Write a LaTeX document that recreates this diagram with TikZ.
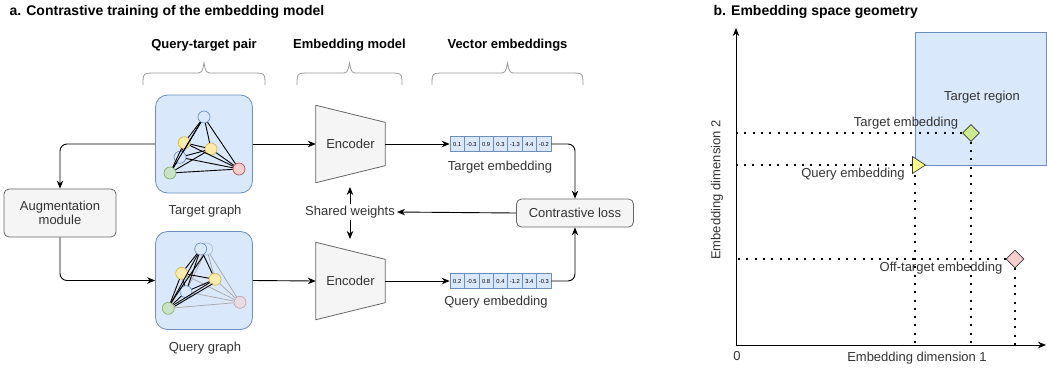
\documentclass[tikz,border=0pt]{standalone}
\usepackage{fontspec}
\setmainfont{Liberation Sans}
\usepackage{tikz}
\usetikzlibrary{arrows.meta, calc, positioning, shapes.geometric, backgrounds}
\tikzset{>={Stealth[length=8pt,width=6.5pt]}}
\usepackage{xcolor}
\definecolor{boxblue}{HTML}{DAE8FC}
\definecolor{lineblue}{HTML}{6C8EBF}
\definecolor{boxgray}{HTML}{F5F5F5}
\definecolor{linegray}{HTML}{666666}
\definecolor{textgray}{HTML}{333333}
\definecolor{nodeyellow}{HTML}{FFEBA8}
\definecolor{lineyellow}{HTML}{D6B656}
\definecolor{nodegreen}{HTML}{C9E3C5}
\definecolor{linegreen}{HTML}{82B366}
\definecolor{nodered}{HTML}{F8CECC}
\definecolor{linered}{HTML}{B85450}
\definecolor{diagreen}{HTML}{CDEB8B}
\definecolor{triyellow}{HTML}{FFFF88}
\definecolor{darkline}{HTML}{36393D}
\definecolor{bracegray}{HTML}{9A9A9A}

\tikzset{
  title/.style={font=\fontsize{14}{16}\selectfont\bfseries, anchor=west},
  header/.style={font=\fontsize{13}{15}\selectfont\bfseries},
  lbl/.style={font=\fontsize{13}{15}\selectfont, text=textgray, inner sep=2pt},
  graphbox/.style={draw=lineblue, fill=boxblue, rounded corners=12pt, line width=0.8pt,
    minimum width=97pt, minimum height=98pt},
  greybox/.style={draw=linegray, fill=boxgray, rounded corners=5pt, line width=0.8pt,
    text=textgray, font=\fontsize{13}{15}\selectfont, align=center},
  encoder/.style={minimum width=69pt, minimum height=77pt, inner sep=0pt, text=textgray,
    font=\fontsize{13}{15}\selectfont},
  encshape/.style={draw=linegray, fill=boxgray, line width=0.8pt},
  cell/.style={draw=lineblue, fill=boxblue, minimum width=14.43pt, minimum height=15pt,
    inner sep=0pt, line width=0.6pt, font=\fontsize{5.8}{6}\selectfont},
  vtx/.style={circle, minimum size=12pt, inner sep=0pt, line width=0.7pt},
  bluev/.style={vtx, draw=lineblue, fill=boxblue},
  yellowv/.style={vtx, draw=lineyellow, fill=nodeyellow},
  greenv/.style={vtx, draw=linegreen, fill=nodegreen},
  redv/.style={vtx, draw=linered, fill=nodered},
  faded/.style={opacity=0.45},
  edge/.style={line width=0.9pt, black},
  fadededge/.style={line width=0.7pt, black!35},
  conn/.style={->, line width=0.9pt, rounded corners=7pt},
  dotline/.style={line width=2pt, dash pattern=on 2pt off 6.3pt},
  marker/.style={draw=darkline, line width=0.7pt, inner sep=0pt},
}

\begin{document}
\begin{tikzpicture}[x=1pt, y=-1pt]
\useasboundingbox (0,0) rectangle (1047,368);

\node[title] (titlea) at (6,12) {a. Contrastive training of the embedding model};
\node[title] (titleb) at (710,12) {b. Embedding space geometry};

\foreach \xa/\xb/\txt/\nm in {143/265/Query-target pair/hpair, 297/402/Embedding model/hmodel, 432/583/Vector embeddings/hvec}{
  \node[header] (\nm) at ({(\xa+\xb)/2},45) {\txt};
  \draw[bracegray, line width=0.8pt] (\xa,85) .. controls (\xa,73) .. (\xa+13,73) -- ({(\xa+\xb)/2-9},73)
    .. controls ({(\xa+\xb)/2-2},73) .. ({(\xa+\xb)/2},63) .. controls ({(\xa+\xb)/2+2},73) .. ({(\xa+\xb)/2+9},73)
    -- (\xb-13,73) .. controls (\xb,73) .. (\xb,85);
}

\node[graphbox] (tg) at (204,144) {};
\node[graphbox] (qg) at (204,280.5) {};
\node[lbl] (tglab) at (205,211) {Target graph};
\node[lbl] (qglab) at (205,348) {Query graph};

% target graph
\node[bluev] (ta) at (204,117) {};
\node[yellowv] (tb) at (184.3,142.7) {};
\node[yellowv] (tc) at (211,149) {};
\node[bluev] (td) at (180,157.3) {};
\node[greenv] (te) at (170,173) {};
\node[redv] (tf) at (239,169) {};
\foreach \a/\b in {ta/tb, ta/tc, ta/td, ta/te, ta/tf, tb/tc, tb/td, tb/te, tb/tf, tc/td, tc/te, tc/tf, td/te, td/tf, te/tf}
  \draw[edge] (\a) -- (\b);

% query graph
\node[bluev, faded] (qg0) at (206.7,249) {};
\node[redv, faded] (qf) at (240,302.3) {};
\node[bluev] (qa) at (200.7,249) {};
\node[yellowv] (qb) at (181.7,273.3) {};
\node[yellowv] (qc) at (215,279.3) {};
\node[bluev] (qd) at (186,291.7) {};
\node[greenv] (qe) at (168.3,308.3) {};
\foreach \a/\b in {qg0/qf, qf/qb, qf/qc, qf/qd, qf/qe, qg0/qc, qg0/qe, qg0/qd}
  \draw[fadededge] (\a) -- (\b);
\foreach \a/\b in {qa/qb, qa/qc, qa/qd, qa/qe, qb/qc, qb/qd, qb/qe, qc/qd, qc/qe, qd/qe}
  \draw[edge] (\a) -- (\b);
\draw[edge] ([xshift=3pt]qe.north) -- ([xshift=3pt]qa.south);
\draw[edge] ([yshift=2pt]qe.east) -- ([xshift=2pt]qc.south west);

\node[greybox, minimum width=112pt, minimum height=48pt] (aug) at (60,213) {Augmentation\\[-1pt]module};
\draw[conn] (tg.west) -| (aug.north);
\draw[conn] (aug.south) |- (qg.west);

\node[encoder] (enc1) at (350.5,144) {Encoder};
\node[encoder] (enc2) at (350.5,281) {Encoder};
\begin{scope}[on background layer]
  \foreach \e in {enc1, enc2}
    \draw[encshape] (\e.north west) -- ([yshift=-17pt]\e.north east) -- ([yshift=17pt]\e.south east)
      -- (\e.south west) -- cycle;
\end{scope}
\draw[conn] (tg.east) -- (enc1.west);
\draw[conn] (qg.east) -- (enc2.west);

\foreach \v [count=\i] in {0.1,-0.3,0.9,0.3,-1.3,4.4,-0.2}
  \node[cell] (t\i) at ({442.8+14.43*\i},144) {\v};
\foreach \v [count=\i] in {0.2,-0.5,0.8,0.4,-1.2,3.4,-0.3}
  \node[cell] (q\i) at ({442.8+14.43*\i},281) {\v};
\node[lbl] (tvlab) at (500,167) {Target embedding};
\node[lbl] (qvlab) at (496,302) {Query embedding};
\draw[conn] (enc1.east) -- (t1.west);
\draw[conn] (enc2.east) -- (q1.west);

\node[greybox, minimum width=117pt, minimum height=28pt] (cl) at (575,213) {Contrastive loss};
\draw[conn] (t7.east) -| (cl.north);
\draw[conn] (q7.east) -| (cl.south);

\node[lbl] (sw) at (350,212) {Shared weights};
\coordinate (swup) at (350,187);
\coordinate (swdn) at (350,239);
\draw[->, line width=0.9pt] (sw) -- (swup);
\draw[->, line width=0.9pt] (sw) -- (swdn);
\draw[->, line width=0.9pt] (cl.west) -- (sw.east);

% embedding space
\coordinate (orig) at (736,345);
\draw[fill=boxblue, draw=lineblue, line width=0.8pt] (915,32) rectangle (1046,165);
\coordinate (rcorner) at (915,165);
\node[lbl] (treg) at (982,97) {Target region};

\node[marker, diamond, fill=diagreen, minimum width=17pt, minimum height=17pt] (tgt) at (971,133) {};
\node[marker, isosceles triangle, isosceles triangle stretches, fill=triyellow,
  minimum width=17pt, minimum height=13pt] (qry) at (917,165) {};
\node[marker, diamond, fill=nodered, minimum width=18pt, minimum height=18pt] (off) at (1015,259) {};

\draw[dotline] (tgt.west) -- (tgt.west -| orig);
\draw[dotline] (tgt.south) -- (tgt.south |- orig);
\draw[dotline] (qry.west) -- (qry.west -| orig);
\draw[dotline] ([yshift=-10pt]rcorner) -- (rcorner |- orig);
\draw[dotline] (off.west) -- (off.west -| orig);
\draw[dotline] (off.south) -- (off.south |- orig);

\node[lbl] (tgtlab) at (906,123) {Target embedding};
\node[lbl] (qrylab) at (853,174) {Query embedding};
\node[lbl] (offlab) at (941,268) {Off-target embedding};

\draw[->, line width=1pt] (orig) -- (736,28);
\draw[->, line width=1pt] (orig) -- (1046,345);
\node[lbl] (zero) at (737,356) {0};
\node[lbl] (xlab) at (917,358) {Embedding dimension 1};
\node[lbl, rotate=90] (ylab) at (717,190) {Embedding dimension 2};
\end{tikzpicture}
\end{document}
